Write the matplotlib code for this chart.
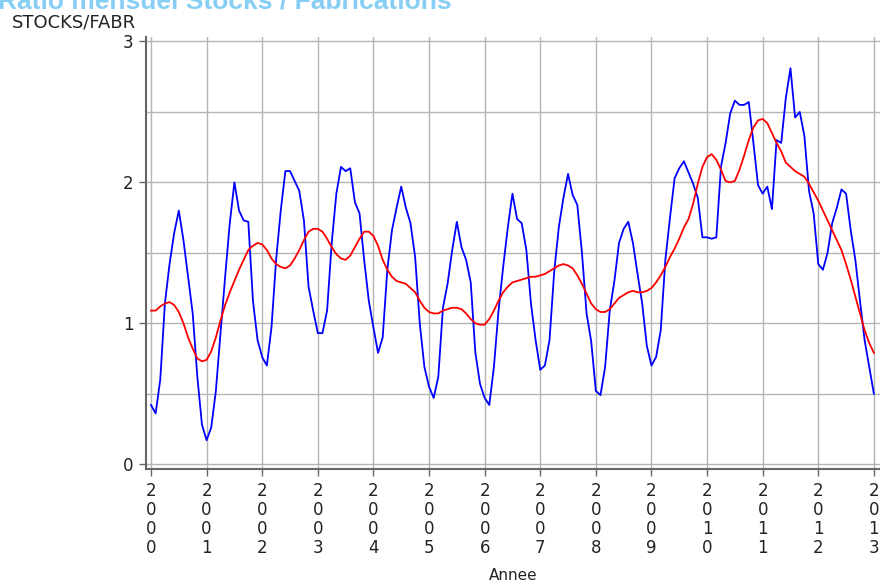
import matplotlib
matplotlib.use("Agg")
from matplotlib import pyplot as plt
import numpy as np

# Monthly ratio stocks / fabrications, Jan 2000 -> Jan 2013
ratio = [
    0.42, 0.36, 0.60, 1.14, 1.42, 1.64, 1.80, 1.59, 1.33, 1.07, 0.62, 0.28,  # 2000
    0.17, 0.26, 0.52, 0.93, 1.33, 1.71, 2.00, 1.80, 1.73, 1.72, 1.16, 0.88,  # 2001
    0.76, 0.70, 0.97, 1.45, 1.80, 2.08, 2.08, 2.01, 1.94, 1.73, 1.26, 1.09,  # 2002
    0.93, 0.93, 1.09, 1.57, 1.92, 2.11, 2.08, 2.10, 1.86, 1.78, 1.45, 1.16,  # 2003
    0.97, 0.79, 0.90, 1.38, 1.66, 1.82, 1.97, 1.82, 1.71, 1.47, 1.00, 0.69,  # 2004
    0.55, 0.47, 0.62, 1.11, 1.28, 1.52, 1.72, 1.54, 1.45, 1.29, 0.79, 0.57,  # 2005
    0.47, 0.42, 0.69, 1.09, 1.40, 1.68, 1.92, 1.74, 1.71, 1.52, 1.14, 0.88,  # 2006
    0.67, 0.70, 0.88, 1.36, 1.68, 1.89, 2.06, 1.91, 1.84, 1.50, 1.07, 0.87,  # 2007
    0.52, 0.49, 0.69, 1.09, 1.30, 1.57, 1.67, 1.72, 1.57, 1.35, 1.14, 0.84,  # 2008
    0.70, 0.76, 0.95, 1.45, 1.75, 2.03, 2.10, 2.15, 2.07, 1.99, 1.89, 1.61,  # 2009
    1.61, 1.60, 1.61, 2.11, 2.28, 2.49, 2.58, 2.55, 2.55, 2.57, 2.28, 1.98,  # 2010
    1.92, 1.97, 1.81, 2.30, 2.28, 2.60, 2.81, 2.46, 2.50, 2.33, 1.94, 1.78,  # 2011
    1.42, 1.38, 1.50, 1.71, 1.82, 1.95, 1.92, 1.66, 1.45, 1.16, 0.88, 0.69,  # 2012
    0.50,                                                                    # 2013
]

# Smoothed trend (red curve), same months
trend = [
    1.09, 1.09, 1.12, 1.14, 1.15, 1.13, 1.08, 1.00, 0.90, 0.82, 0.75, 0.73,
    0.74, 0.80, 0.90, 1.02, 1.13, 1.22, 1.30, 1.38, 1.45, 1.52, 1.55, 1.57,
    1.56, 1.52, 1.46, 1.42, 1.40, 1.39, 1.41, 1.46, 1.52, 1.59, 1.65, 1.67,
    1.67, 1.65, 1.60, 1.54, 1.49, 1.46, 1.45, 1.48, 1.54, 1.60, 1.65, 1.65,
    1.62, 1.55, 1.45, 1.38, 1.33, 1.30, 1.29, 1.28, 1.25, 1.22, 1.16, 1.11,
    1.08, 1.07, 1.07, 1.09, 1.10, 1.11, 1.11, 1.10, 1.07, 1.03, 1.00, 0.99,
    0.99, 1.03, 1.09, 1.16, 1.22, 1.26, 1.29, 1.30, 1.31, 1.32, 1.33, 1.33,
    1.34, 1.35, 1.37, 1.39, 1.41, 1.42, 1.41, 1.39, 1.34, 1.28, 1.21, 1.14,
    1.10, 1.08, 1.08, 1.10, 1.14, 1.18, 1.20, 1.22, 1.23, 1.22, 1.22, 1.23,
    1.25, 1.29, 1.34, 1.40, 1.47, 1.53, 1.60, 1.68, 1.74, 1.85, 1.99, 2.11,
    2.18, 2.20, 2.16, 2.09, 2.01, 2.00, 2.01, 2.09, 2.19, 2.30, 2.39, 2.44,
    2.45, 2.42, 2.35, 2.28, 2.22, 2.14, 2.11, 2.08, 2.06, 2.04, 1.99, 1.93,
    1.87, 1.80, 1.73, 1.66, 1.59, 1.52, 1.42, 1.31, 1.19, 1.07, 0.95, 0.86,
    0.79,
]

years = list(range(2000, 2014))
months = 2000 + np.arange(len(ratio)) / 12.0

fig = plt.figure(figsize=(8.8, 5.82), dpi=100)
ax = fig.add_axes([0.1659, 0.194, 0.8341, 0.742])

ax.plot(months, ratio, color="#0000ff", lw=1.3, zorder=3)
ax.plot(months, trend, color="#ff0000", lw=1.3, zorder=4)

ax.set_xlim(1999.91, 2013.11)
ax.set_ylim(-0.035, 3.03)

ax.set_xticks(years)
ax.set_xticklabels(["\n".join(str(y)) for y in years], fontsize=12, color="#222222",
                   linespacing=1.08)
ax.set_yticks([0, 1, 2, 3])
ax.set_yticklabels(["0", "1", "2", "3"], fontsize=12, color="#222222")
ax.set_yticks(np.arange(0, 3.01, 0.5), minor=True)
ax.tick_params(axis="y", which="minor", length=0)
ax.tick_params(axis="both", which="major", length=5, width=1, color="#666666", pad=4)

ax.grid(True, which="both", axis="y", color="#b4b4b4", lw=1)
ax.grid(True, which="major", axis="x", color="#b4b4b4", lw=1)
ax.set_axisbelow(True)

for s in ["top", "right"]:
    ax.spines[s].set_visible(False)
for s in ["left", "bottom"]:
    ax.spines[s].set_color("#666666")
    ax.spines[s].set_linewidth(1.5)

ax.set_xlabel("Annee", fontsize=11, color="#222222", labelpad=8)

fig.text(0.0136, 0.962, "STOCKS/FABR", fontsize=13, color="#222222", va="center", ha="left")
fig.text(-0.002, 0.986, "Ratio mensuel Stocks / Fabrications", fontsize=19, fontweight="bold",
         family="Liberation Sans", color="#87cef5", va="baseline", ha="left")

fig.savefig("out.png", dpi=100)
